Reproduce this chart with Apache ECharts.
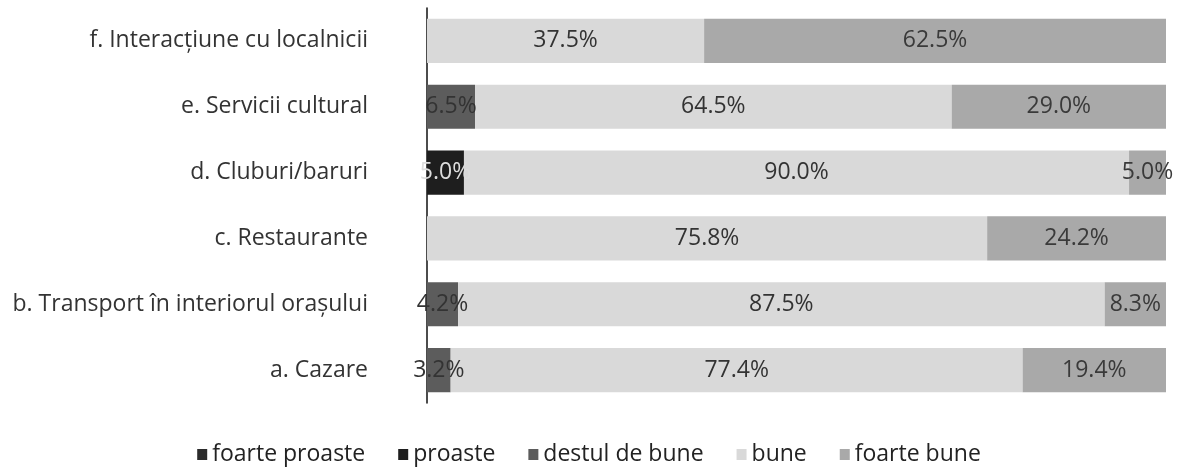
<!DOCTYPE html>
<html>
<head>
<meta charset="utf-8">
<script src="https://cdn.jsdelivr.net/npm/echarts@6/dist/echarts.min.js"></script>
<style>
    html, body { margin: 0; padding: 0; background: #fff; }
    #barChart { width: 1178px; height: 468px; }
</style>
</head>
<body>
<div id="barChart"></div>
<script>
// categorii (de jos in sus)
var categories = ['a. Cazare', 'b. Transport în interiorul orașului', 'c. Restaurante',
    'd. Cluburi/baruri', 'e. Servicii cultural', 'f. Interacțiune cu localnicii'];

var seriesNames = ['foarte proaste', 'proaste', 'destul de bune', 'bune', 'foarte bune'];

var foarteProaste = [null, null, null, null, null, null];
var proaste = [null, null, null, 5.0, null, null];
var destulDeBune = [3.2, 4.2, null, null, 6.5, null];
var bune = [77.4, 87.5, 75.8, 90.0, 64.5, 37.5];
var foarteBune = [19.4, 8.3, 24.2, 5.0, 29.0, 62.5];

(function () {
    var dom = document.getElementById("barChart");
    var myChart = echarts.init(dom);

    var values = [foarteProaste, proaste, destulDeBune, bune, foarteBune];
    var colors = ['#2b2b2b', '#1e1e1e', '#5c5c5c', '#d9d9d9', '#a9a9a9'];
    var labelColors = ['#ddd', '#ddd', '#333', '#333', '#3a3a3a'];

    var series = seriesNames.map(function (name, i) {
        return {
            name: name,
            type: 'bar',
            stack: 'total',
            data: values[i],
            barCategoryGap: '33%',
            itemStyle: { color: colors[i] },
            label: {
                show: true,
                position: 'inside',
                color: labelColors[i],
                fontSize: 23,
                fontFamily: 'Open Sans',
                formatter: function (p) {
                    return p.value == null ? '' : p.value.toFixed(1) + '%';
                }
            }
        };
    });

    var option = {
        animation: false,
        legend: {
            top: 438,
            left: 'center',
            itemGap: 33,
            itemWidth: 10,
            itemHeight: 11,
            icon: 'rect',
            textStyle: {
                color: '#222',
                fontSize: 23,
                fontFamily: 'Open Sans'
            },
            data: seriesNames
        },
        grid: {
            left: 427,
            top: 8,
            right: 12,
            bottom: 65
        },
        xAxis: {
            type: 'value',
            min: 0,
            max: 100,
            show: false
        },
        yAxis: {
            type: 'category',
            data: categories,
            axisLine: {
                lineStyle: { color: '#111', width: 1.5 }
            },
            axisTick: { show: false },
            axisLabel: {
                margin: 59,
                color: '#333',
                fontSize: 23,
                fontFamily: 'Open Sans'
            }
        },
        series: series
    };

    if (option && typeof option === 'object') {
        myChart.setOption(option);
    }

    window.addEventListener("resize", function () {
        myChart.resize();
    });
})();
</script>
</body>
</html>
